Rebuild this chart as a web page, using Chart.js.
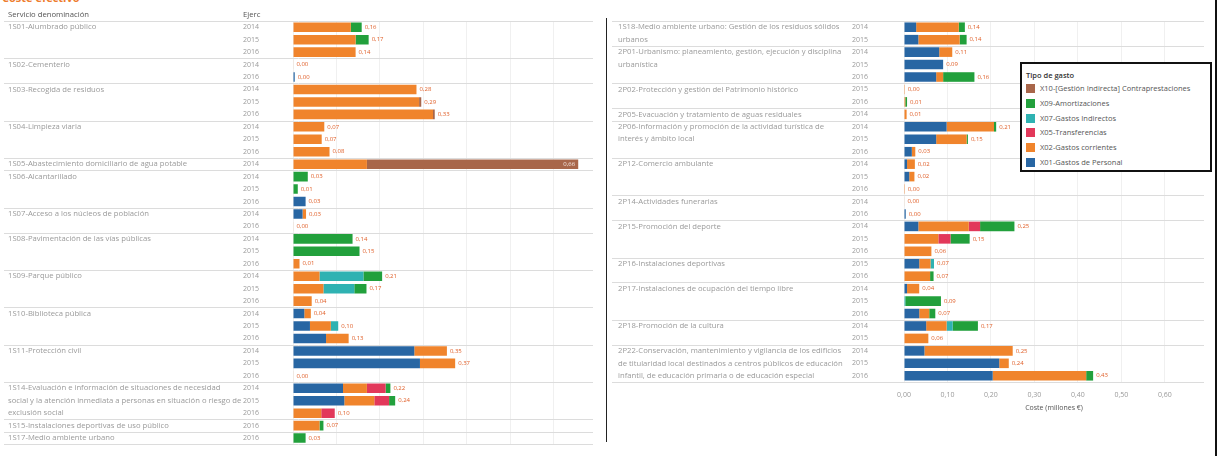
<!DOCTYPE html>
<html>
<head>
<meta charset="utf-8">
<script src="https://cdn.jsdelivr.net/npm/chart.js@4.4.1/dist/chart.umd.min.js"></script>
<style>
    body { margin: 0; background: #fff; width: 1223px; height: 456px; overflow: hidden; position: relative; font-family: "Open Sans", sans-serif; }
    #leftBox { position: absolute; left: 0; top: 0; width: 600px; height: 456px; }
    #rightBox { position: absolute; left: 606px; top: 0; width: 617px; height: 456px; }
    #divider { position: absolute; left: 606px; top: 18px; width: 1px; height: 424px; background: #222; }
    #frame { position: absolute; left: 1215px; top: 0; width: 2px; height: 456px; background: #111; }
    #topTitle { position: absolute; left: 2px; top: -10px; font-size: 11px; font-weight: bold; color: #ee7d2f; }
    #legend { position: absolute; left: 1020px; top: 62px; width: 188px; height: 106px; border: 2px solid #111; background: #fff; overflow: hidden; font-size: 7.5px; color: #555; white-space: nowrap; }
    #legend .title { position: absolute; left: 4px; top: 6px; color: #333; font-weight: 600; }
    #legend .item { position: absolute; left: 4px; height: 9px; line-height: 9px; }
    #legend .sw { display: inline-block; width: 9px; height: 9px; vertical-align: top; margin-right: 5px; }
</style>
</head>
<body>
<div id="topTitle">Coste efectivo</div>
<div id="leftBox"><canvas id="leftChart"></canvas></div>
<div id="rightBox"><canvas id="rightChart"></canvas></div>
<div id="divider"></div>
<div id="frame"></div>
<div id="legend"><div class="title">Tipo de gasto</div></div>
<script>
    // ---- data: left panel ----
    const leftServices = [
        '1S01-Alumbrado público',
        '1S02-Cementerio',
        '1S03-Recogida de residuos',
        '1S04-Limpieza viaria',
        '1S05-Abastecimiento domiciliario de agua potable',
        '1S06-Alcantarillado',
        '1S07-Acceso a los núcleos de población',
        '1S08-Pavimentación de las vías públicas',
        '1S09-Parque público',
        '1S10-Biblioteca pública',
        '1S11-Protección civil',
        '1S14-Evaluación e información de situaciones de necesidad\nsocial y la atención inmediata a personas en situación o riesgo de\nexclusión social',
        '1S15-Instalaciones deportivas de uso público',
        '1S17-Medio ambiente urbano'
    ];
    const leftGroupSizes = [3, 2, 3, 3, 1, 3, 2, 3, 3, 3, 3, 3, 1, 1];
    const leftYears = ['2014','2015','2016','2014','2016','2014','2015','2016','2014','2015','2016','2014',
        '2014','2015','2016','2014','2016','2014','2015','2016','2014','2015','2016','2014','2015','2016',
        '2014','2015','2016','2014','2015','2016','2016','2016'];
    const leftPersonal = [0,0,0,0,.004,0,0,0,0,0, 0,0,0,0,.029,.022,0,0,0,0, 0,0,0,.026,.039,.076,.279,.292,0,.115, .118,0,0,0];
    const leftCorrientes = [.133,.144,.144,.001,0,.284,.290,.322,.072,.066, .084,.170,0,0,0,.008,.001,0,0,.015, .061,.070,.043,.015,.048,.052,.075,.081,.001,.055, .069,.065,.061,0];
    const leftTransferencias = [0,0,0,0,0,0,0,0,0,0, 0,0,0,0,0,0,0,0,0,0, 0,0,0,0,0,0,0,0,0,.043, .034,.031,0,0];
    const leftIndirectos = [0,0,0,0,0,0,0,0,0,0, 0,0,0,0,0,0,0,0,0,0, .101,.071,0,0,.017,0,0,0,0,0, 0,0,0,0];
    const leftAmortizaciones = [.025,.030,0,0,0,0,0,0,0,0, 0,0,.034,.011,0,0,0,.137,.153,0, .043,.028,0,0,0,0,0,0,0,.011, .014,0,.009,.029];
    const leftContraprestaciones = [0,0,0,0,0,0,.005,.004,0,0, 0,.486,0,0,0,0,0,0,0,0, 0,0,0,0,0,0,0,0,0,0, 0,0,0,0];

    // ---- data: right panel ----
    const rightServices = [
        '1S18-Medio ambiente urbano: Gestión de los residuos sólidos urbanos',
        '2P01-Urbanismo: planeamiento, gestión, ejecución y disciplina urbanística',
        '2P02-Protección y gestión del Patrimonio histórico',
        '2P05-Evacuación y tratamiento de aguas residuales',
        '2P06-Información y promoción de la actividad turística de interés y ámbito local',
        '2P12-Comercio ambulante',
        '2P14-Actividades funerarias',
        '2P15-Promoción del deporte',
        '2P16-Instalaciones deportivas',
        '2P17-Instalaciones de ocupación del tiempo libre',
        '2P18-Promoción de la cultura',
        '2P22-Conservación, mantenimiento y vigilancia de los edificios de titularidad local destinados a centros públicos de educación infantil, de educación primaria o de educación especial'
    ];
    const rightGroupSizes = [2, 3, 2, 1, 3, 3, 2, 3, 2, 3, 2, 3];
    const rightYears = ['2014','2015','2014','2015','2016','2015','2016','2014','2014','2015','2016',
        '2014','2015','2016','2014','2016','2014','2015','2016','2015','2016','2014','2015','2016',
        '2014','2015','2014','2015','2016'];
    const rightPersonal = [.028,.033,.081,.090,.074,0,0,0,.098,.074, .018,.007,.012,0,0,.004,.033,0,0,.035, 0,.007,0,.035,.051,0,.047,.219,.204];
    const rightCorrientes = [.098,.095,.030,0,.016,.002,.003,.006,.109,.070, .008,.018,.012,.002,.001,0,.116,.079,.063,.026, .060,.028,0,.023,.047,.056,.203,.022,.215];
    const rightTransferencias = [0,0,0,0,0,0,0,0,0,0, 0,0,0,0,0,0,.026,.028,0,0, 0,0,0,0,0,0,0,0,0];
    const rightIndirectos = [0,0,0,0,0,0,0,0,0,0, 0,0,0,0,0,0,0,0,0,.008, 0,0,.003,0,.014,0,0,0,0];
    const rightAmortizaciones = [.014,.016,0,0,.072,0,.004,0,.005,.003, 0,0,0,0,0,0,.079,.044,0,0, .008,0,.082,.014,.058,0,0,0,.016];
    const rightContraprestaciones = [0,0,0,0,0,0,0,0,0,0, 0,0,0,0,0,0,0,0,0,0, 0,0,0,0,0,0,0,0,0];

    const xTicks = [0, 0.1, 0.2, 0.3, 0.4, 0.5, 0.6];

    const typeLabels = ['X01-Gastos de Personal', 'X02-Gastos corrientes', 'X05-Transferencias',
        'X07-Gastos Indirectos', 'X09-Amortizaciones', 'X10-[Gestión Indirecta] Contraprestaciones'];
    const typeColors = ['#2866a3', '#f0842c', '#e2385a', '#2fb2b2', '#22a03c', '#a8664a'];

    const FONT = '"Open Sans", sans-serif';

    // explicit \n breaks first, then wrap on width
    function wrapText(ctx, text, maxWidth) {
        const lines = [];
        text.split('\n').forEach(function(part) {
            let line = '';
            part.split(' ').forEach(function(w) {
                const test = line ? line + ' ' + w : w;
                if (ctx.measureText(test).width > maxWidth && line) {
                    lines.push(line);
                    line = w;
                } else {
                    line = test;
                }
            });
            if (line) lines.push(line);
        });
        return lines;
    }

    // draws service names, group separators, header and bar totals
    const tablePlugin = {
        id: 'table',
        afterDatasetsDraw: function(chart, args, opts) {
            const ctx = chart.ctx;
            const y = chart.scales.y;
            const x = chart.scales.x;
            const area = chart.chartArea;
            const step = y.getPixelForValue(1) - y.getPixelForValue(0);
            ctx.save();

            ctx.strokeStyle = '#dcdcdc';
            ctx.lineWidth = 1;
            ctx.font = '7.7px ' + FONT;
            ctx.textBaseline = 'middle';
            ctx.textAlign = 'left';
            let row = 0;
            opts.groups.forEach(function(size, g) {
                const top = Math.round(y.getPixelForValue(row) - step / 2) + 0.5;
                ctx.beginPath();
                ctx.moveTo(opts.lineStart, top);
                ctx.lineTo(area.right, top);
                ctx.stroke();
                ctx.fillStyle = '#9a9a9a';
                const lines = wrapText(ctx, opts.names[g], opts.nameWidth);
                lines.forEach(function(ln, i) {
                    ctx.fillText(ln, opts.nameX, y.getPixelForValue(row) + i * step);
                });
                row += size;
            });
            const bottom = Math.round(y.getPixelForValue(row - 1) + step / 2) + 0.5;
            ctx.beginPath();
            ctx.moveTo(opts.lineStart, bottom);
            ctx.lineTo(area.right, bottom);
            ctx.stroke();

            if (opts.header) {
                ctx.fillStyle = '#555';
                ctx.fillText('Servicio denominación', opts.nameX, 15);
                ctx.fillText('Ejerc', 243, 15);
            }

            // totals at end of each stacked bar
            ctx.font = '6px ' + FONT;
            const n = chart.data.labels.length;
            for (let i = 0; i < n; i++) {
                let total = 0;
                chart.data.datasets.forEach(function(ds) { total += ds.data[i]; });
                const text = total.toFixed(2).replace('.', ',');
                const px = x.getPixelForValue(total);
                const py = y.getPixelForValue(i);
                const w = ctx.measureText(text).width;
                if (px + 3 + w > area.right) {
                    ctx.fillStyle = '#f3e6e0';
                    ctx.textAlign = 'right';
                    ctx.fillText(text, px - 3, py);
                } else {
                    ctx.fillStyle = '#e0602a';
                    ctx.textAlign = 'left';
                    ctx.fillText(text, px + 3, py);
                }
            }
            ctx.restore();
        }
    };

    function buildDatasets(series) {
        return series.map(function(data, k) {
            return {
                label: typeLabels[k],
                data: data,
                backgroundColor: typeColors[k],
                barPercentage: 0.77,
                categoryPercentage: 1.0
            };
        });
    }

    function makeChart(id, cfg) {
        return new Chart(document.getElementById(id).getContext('2d'), {
            type: 'bar',
            data: {
                labels: cfg.years,
                datasets: buildDatasets(cfg.series)
            },
            options: {
                indexAxis: 'y',
                responsive: true,
                maintainAspectRatio: false,
                animation: false,
                layout: { padding: cfg.padding },
                scales: {
                    x: {
                        stacked: true,
                        min: 0,
                        max: 0.69,
                        grid: { color: '#f0f0f0', drawTicks: false },
                        border: { display: false },
                        afterBuildTicks: function(scale) {
                            scale.ticks = xTicks.map(function(v) { return { value: v }; });
                        },
                        afterFit: function(scale) {
                            scale.height = cfg.axisHeight;
                            scale.paddingLeft = 0;
                            scale.paddingRight = 0;
                        },
                        ticks: {
                            display: cfg.showAxis,
                            color: '#999',
                            padding: 9,
                            font: { size: 7, family: FONT },
                            callback: function(value) { return value.toFixed(2).replace('.', ','); }
                        },
                        title: {
                            display: cfg.showAxis,
                            text: 'Coste (millones €)',
                            color: '#555',
                            padding: 0,
                            font: { size: 7, family: FONT }
                        }
                    },
                    y: {
                        stacked: true,
                        grid: { display: false, drawTicks: false },
                        border: { display: false },
                        afterFit: function(scale) {
                            scale.width = cfg.axisWidth;
                            scale.paddingTop = 0;
                            scale.paddingBottom = 0;
                        },
                        ticks: {
                            autoSkip: false,
                            color: '#9a9a9a',
                            padding: cfg.yearPad,
                            font: { size: 7, family: FONT }
                        }
                    }
                },
                plugins: {
                    legend: { display: false },
                    table: cfg.table
                }
            },
            plugins: [tablePlugin]
        });
    }

    const leftChart = makeChart('leftChart', {
        years: leftYears,
        series: [leftPersonal, leftCorrientes, leftTransferencias, leftIndirectos, leftAmortizaciones, leftContraprestaciones],
        padding: { top: 21, bottom: 11.7, left: 0, right: 7 },
        axisHeight: 0,
        axisWidth: 293,
        yearPad: 34,
        showAxis: false,
        table: { groups: leftGroupSizes, names: leftServices, nameX: 8, nameWidth: 240, lineStart: 4, header: true }
    });

    const rightChart = makeChart('rightChart', {
        years: rightYears,
        series: [rightPersonal, rightCorrientes, rightTransferencias, rightIndirectos, rightAmortizaciones, rightContraprestaciones],
        padding: { top: 21, bottom: 44, left: 0, right: 19 },
        axisHeight: 30,
        axisWidth: 298,
        yearPad: 36,
        showAxis: true,
        table: { groups: rightGroupSizes, names: rightServices, nameX: 12, nameWidth: 230, lineStart: 6, header: false }
    });

    // legend box built from the right chart's datasets
    const legendEl = document.getElementById('legend');
    rightChart.data.datasets.slice().reverse().forEach(function(ds, i) {
        const item = document.createElement('div');
        item.className = 'item';
        item.style.top = (20 + i * 14.8) + 'px';
        item.innerHTML = '<span class="sw" style="background:' + ds.backgroundColor + '"></span>' + ds.label;
        legendEl.appendChild(item);
    });
</script>
</body>
</html>
